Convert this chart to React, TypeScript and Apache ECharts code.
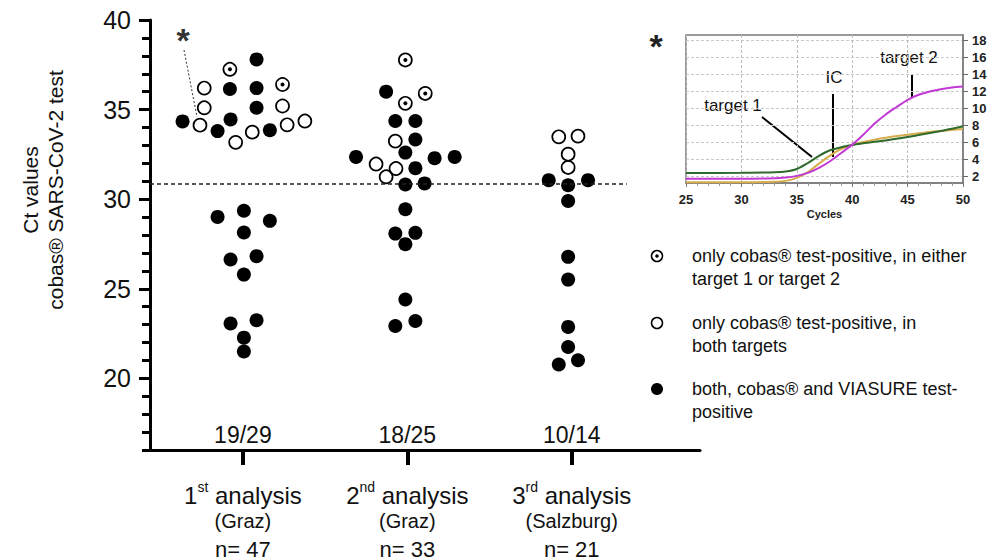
import React, { useEffect, useRef } from 'react';
import * as echarts from 'echarts';

// ---------- main chart data ----------
const GROUPS = [1, 2, 3];
const ORDINALS = ['1', '2', '3'];
const ORDINAL_SUFFIX = ['st', 'nd', 'rd'];
const SITES = ['Graz', 'Graz', 'Salzburg'];
const SAMPLE_N = [47, 33, 21];
const BOTH_POSITIVE = [19, 18, 10];
const COBAS_POSITIVE = [29, 25, 14];
const Y_TICK_LABELS = [20, 25, 30, 35, 40];
const CT_THRESHOLD = 30.85;

// [group, horizontal swarm offset (fraction of group spacing), Ct value]
const FILLED_POINTS = [
  [1, 0.083, 37.8], [1, -0.079, 36.15], [1, 0.083, 36.2], [1, 0.083, 35.1], [1, -0.367, 34.34],
  [1, -0.075, 34.45], [1, -0.154, 33.8], [1, 0.164, 33.85], [1, -0.154, 29.01], [1, 0.006, 29.35],
  [1, 0.164, 28.79], [1, 0.006, 28.14], [1, -0.075, 26.63], [1, 0.083, 26.82], [1, 0.006, 25.79],
  [1, -0.075, 23.06], [1, 0.083, 23.24], [1, 0.006, 22.27], [1, 0.006, 21.5],
  [2, -0.129, 36.0], [2, -0.073, 34.36], [2, 0.049, 34.36], [2, 0.049, 33.33], [2, -0.012, 32.6],
  [2, -0.312, 32.36], [2, 0.166, 32.29], [2, 0.288, 32.36], [2, 0.049, 31.73], [2, -0.012, 30.82],
  [2, 0.105, 30.88], [2, -0.012, 29.44], [2, -0.073, 28.08], [2, 0.049, 28.12], [2, -0.012, 27.49],
  [2, -0.012, 24.4], [2, -0.073, 22.92], [2, 0.049, 23.2],
  [3, -0.14, 31.06], [3, -0.022, 30.78], [3, 0.099, 31.06], [3, -0.022, 29.9], [3, -0.022, 26.78],
  [3, -0.022, 25.51], [3, -0.022, 22.87], [3, -0.022, 21.75], [3, -0.079, 20.77], [3, 0.038, 21.01],
];
const OPEN_POINTS = [
  [1, -0.235, 36.2], [1, -0.235, 35.1], [1, -0.261, 34.13], [1, -0.044, 33.17], [1, 0.057, 33.74],
  [1, 0.241, 35.2], [1, 0.269, 34.15], [1, 0.377, 34.36],
  [2, -0.073, 33.24], [2, -0.19, 31.96], [2, -0.069, 31.71], [2, -0.129, 31.25],
  [3, -0.079, 33.48], [3, 0.038, 33.52], [3, -0.022, 32.51], [3, -0.022, 31.77],
];
const DOTTED_POINTS = [
  [1, -0.079, 37.25], [1, 0.241, 36.4], [2, -0.012, 37.77], [2, 0.109, 35.9], [2, -0.012, 35.35],
];

const LEGEND_LABELS = [
  'only cobas® test-positive, in either\ntarget 1 or target 2',
  'only cobas® test-positive, in\nboth targets',
  'both, cobas® and VIASURE test-\npositive',
];

// ---------- inset amplification curves ----------
const CYCLES = [25, 30, 33, 34, 35, 36, 37, 38, 39, 40, 41, 42, 43, 44, 45, 46, 47, 48, 49, 50];
const TARGET1 = [2.38, 2.4, 2.45, 2.55, 2.85, 3.55, 4.4, 5.05, 5.4, 5.67, 5.87, 6.05, 6.2, 6.4, 6.6, 6.84, 7.08, 7.31, 7.59, 7.86];
const IC = [1.3, 1.3, 1.35, 1.45, 1.8, 2.47, 3.48, 4.42, 5.2, 5.67, 6.02, 6.3, 6.53, 6.73, 6.88, 7.04, 7.2, 7.31, 7.43, 7.55];
const TARGET2 = [1.69, 1.7, 1.76, 1.84, 2.04, 2.39, 2.98, 3.76, 4.73, 5.71, 6.88, 8.17, 9.23, 10.13, 10.98, 11.57, 11.96, 12.23, 12.43, 12.55];
const INSET_X_TICKS = [25, 30, 35, 40, 45, 50];
const INSET_Y_TICKS = [2, 4, 6, 8, 10, 12, 14, 16, 18];

const FONT = '"Liberation Sans", Arial, Helvetica, sans-serif';

export default function App() {
  const ref = useRef<HTMLDivElement>(null);

  useEffect(() => {
    if (!ref.current) return;
    const chart = echarts.init(ref.current, null, { renderer: 'svg' });

    const X_MIN = 0.435;
    const X_MAX = 3.78;
    const toXY = (p: number[]) => [p[0] + p[1], p[2]];
    const countLabelY = 16.85;

    const legendYs = [256, 323, 389];
    const legendGraphics: any[] = [];
    LEGEND_LABELS.forEach((lbl, i) => {
      const cy = legendYs[i];
      if (i === 2) {
        legendGraphics.push({ type: 'circle', shape: { cx: 657, cy, r: 6 }, style: { fill: '#000' } });
      } else {
        legendGraphics.push({ type: 'circle', shape: { cx: 657, cy, r: 5.5 }, style: { fill: 'none', stroke: '#000', lineWidth: 1.5 } });
        if (i === 0) legendGraphics.push({ type: 'circle', shape: { cx: 657, cy, r: 1.8 }, style: { fill: '#000' } });
      }
      legendGraphics.push({
        type: 'text', x: 692, y: cy - 12,
        style: { text: lbl, fontSize: 18, fontFamily: FONT, fill: '#111', lineHeight: 23, align: 'left', verticalAlign: 'top' },
      });
    });

    const option: any = {
      animation: false,
      textStyle: { fontFamily: FONT },
      grid: [
        { left: 150, top: 20, width: 550, height: 430 },
        { left: 686, top: 35, width: 277, height: 148, show: true, borderColor: '#7a7a7a', borderWidth: 1.5 },
      ],
      xAxis: [
        {
          type: 'value', gridIndex: 0, min: X_MIN, max: X_MAX,
          axisLine: { lineStyle: { color: '#000', width: 3 } },
          axisTick: { customValues: GROUPS, length: 15, lineStyle: { color: '#000', width: 4 } },
          splitLine: { show: false },
          axisLabel: {
            customValues: GROUPS, margin: 30, color: '#111',
            formatter: (v: number) => {
              const i = Math.round(v) - 1;
              return `{a|${ORDINALS[i]}}{s|${ORDINAL_SUFFIX[i]}}{a| analysis}\n{b|(${SITES[i]})}\n{c|n= ${SAMPLE_N[i]}}`;
            },
            rich: {
              a: { fontSize: 24, lineHeight: 30, fontFamily: FONT, color: '#111' },
              s: { fontSize: 14, lineHeight: 16, verticalAlign: 'top', fontFamily: FONT, color: '#111' },
              b: { fontSize: 20, lineHeight: 22, fontFamily: FONT, color: '#111' },
              c: { fontSize: 22, lineHeight: 34, fontFamily: FONT, color: '#111' },
            },
          },
        },
        {
          type: 'value', gridIndex: 1, min: 25, max: 50, interval: 5,
          axisLine: { lineStyle: { color: '#7a7a7a', width: 1.5 } },
          axisTick: { length: 4, lineStyle: { color: '#777' } },
          minorTick: { show: true, splitNumber: 5, length: 3, lineStyle: { color: '#999' } },
          splitLine: { show: true, lineStyle: { color: '#bdbdbd', type: [3, 2], width: 1 } },
          axisLabel: { fontSize: 13, fontWeight: 'bold', color: '#222', margin: 10, fontFamily: FONT, customValues: INSET_X_TICKS },
          name: 'Cycles', nameLocation: 'middle', nameGap: 25,
          nameTextStyle: { fontSize: 11, fontWeight: 'bold', color: '#222', fontFamily: FONT },
        },
      ],
      yAxis: [
        {
          type: 'value', gridIndex: 0, min: 16, max: 40, interval: 1, position: 'left',
          axisLine: { show: true, lineStyle: { color: '#000', width: 3 } },
          axisTick: { show: true, length: 8, lineStyle: { color: '#000', width: 3 } },
          splitLine: { show: false },
          axisLabel: { customValues: Y_TICK_LABELS, fontSize: 25, color: '#111', margin: 19, fontFamily: FONT },
        },
        {
          type: 'value', gridIndex: 0, min: 16, max: 40, position: 'left',
          axisLine: { show: false },
          axisTick: { show: true, customValues: Y_TICK_LABELS, length: 11, lineStyle: { color: '#000', width: 3 } },
          splitLine: { show: false },
          axisLabel: { show: false },
        },
        {
          type: 'value', gridIndex: 1, min: 1.2, max: 18.6, position: 'right',
          axisLine: { show: true, lineStyle: { color: '#7a7a7a', width: 1.5 } },
          axisTick: { show: true, customValues: INSET_Y_TICKS, length: 5, lineStyle: { color: '#666' } },
          splitLine: { show: true, lineStyle: { color: '#c8c8c8', type: [3, 2], width: 1 } },
          axisLabel: { customValues: INSET_Y_TICKS, fontSize: 13, fontWeight: 'bold', color: '#222', margin: 9, fontFamily: FONT },
        },
      ],
      series: [
        {
          type: 'line', xAxisIndex: 0, yAxisIndex: 0, symbol: 'none', silent: true,
          data: [[X_MIN, CT_THRESHOLD], [3.335, CT_THRESHOLD]],
          lineStyle: { color: '#222', width: 1.5, type: [4, 3] },
        },
        {
          type: 'scatter', xAxisIndex: 0, yAxisIndex: 0, symbol: 'circle', symbolSize: 13,
          data: OPEN_POINTS.map(toXY),
          itemStyle: { color: 'rgba(0,0,0,0)', borderColor: '#000', borderWidth: 1.7, opacity: 1 },
        },
        {
          type: 'scatter', xAxisIndex: 0, yAxisIndex: 0, symbol: 'circle', symbolSize: 13,
          data: DOTTED_POINTS.map(toXY),
          itemStyle: { color: 'rgba(0,0,0,0)', borderColor: '#000', borderWidth: 1.7, opacity: 1 },
        },
        {
          type: 'scatter', xAxisIndex: 0, yAxisIndex: 0, symbol: 'circle', symbolSize: 4,
          data: DOTTED_POINTS.map(toXY),
          itemStyle: { color: '#000', opacity: 1 },
        },
        {
          type: 'scatter', xAxisIndex: 0, yAxisIndex: 0, symbol: 'circle', symbolSize: 14,
          data: FILLED_POINTS.map(toXY),
          itemStyle: { color: '#000', opacity: 1 },
        },
        {
          type: 'scatter', xAxisIndex: 0, yAxisIndex: 0, symbolSize: 1, silent: true,
          data: GROUPS.map((g) => [g, countLabelY]),
          itemStyle: { color: 'rgba(0,0,0,0)', opacity: 1 },
          label: {
            show: true, position: 'inside', fontSize: 23, color: '#111', fontFamily: FONT,
            formatter: (p: any) => `${BOTH_POSITIVE[p.dataIndex]}/${COBAS_POSITIVE[p.dataIndex]}`,
          },
        },
        {
          type: 'line', xAxisIndex: 1, yAxisIndex: 2, showSymbol: false, smooth: 0.3,
          data: CYCLES.map((c, i) => [c, IC[i]]), lineStyle: { color: '#d6ac4c', width: 2 },
        },
        {
          type: 'line', xAxisIndex: 1, yAxisIndex: 2, showSymbol: false, smooth: 0.3,
          data: CYCLES.map((c, i) => [c, TARGET1[i]]), lineStyle: { color: '#2f6a2c', width: 2 },
        },
        {
          type: 'line', xAxisIndex: 1, yAxisIndex: 2, showSymbol: false, smooth: 0.3,
          data: CYCLES.map((c, i) => [c, TARGET2[i]]), lineStyle: { color: '#c13ad4', width: 2 },
        },
      ],
      graphic: [
        { type: 'text', x: 30, y: 190, rotation: Math.PI / 2, style: { text: 'Ct values', fontSize: 21, fontFamily: FONT, fill: '#111', align: 'center', verticalAlign: 'middle' } },
        { type: 'text', x: 55, y: 190, rotation: Math.PI / 2, style: { text: 'cobas® SARS-CoV-2 test', fontSize: 21, fontFamily: FONT, fill: '#111', align: 'center', verticalAlign: 'middle' } },
        { type: 'text', x: 183, y: 40, style: { text: '*', fontSize: 34, fontWeight: 'bold', fontFamily: FONT, fill: '#333', align: 'center', verticalAlign: 'middle' } },
        { type: 'line', shape: { x1: 184, y1: 50, x2: 197, y2: 117 }, style: { stroke: '#333', lineWidth: 1, lineDash: [2, 2] } },
        { type: 'text', x: 656, y: 46, style: { text: '*', fontSize: 34, fontWeight: 'bold', fontFamily: FONT, fill: '#222', align: 'center', verticalAlign: 'middle' } },
        { type: 'text', x: 733, y: 105, style: { text: 'target 1', fontSize: 17, fontFamily: FONT, fill: '#111', align: 'center', verticalAlign: 'middle' } },
        { type: 'text', x: 834, y: 77, style: { text: 'IC', fontSize: 17, fontFamily: FONT, fill: '#111', align: 'center', verticalAlign: 'middle' } },
        { type: 'text', x: 909, y: 57, style: { text: 'target 2', fontSize: 17, fontFamily: FONT, fill: '#111', align: 'center', verticalAlign: 'middle' } },
        { type: 'line', shape: { x1: 762, y1: 117, x2: 812, y2: 157 }, style: { stroke: '#000', lineWidth: 2 } },
        { type: 'line', shape: { x1: 833, y1: 94, x2: 833, y2: 157 }, style: { stroke: '#000', lineWidth: 2 } },
        { type: 'line', shape: { x1: 912, y1: 74, x2: 912, y2: 97 }, style: { stroke: '#000', lineWidth: 2 } },
        ...legendGraphics,
      ],
    };

    chart.setOption(option);
    return () => chart.dispose();
  }, []);

  return (
    <div
      ref={ref}
      style={{ position: 'absolute', left: 0, top: 0, width: 993, height: 560, background: '#fff' }}
    />
  );
}
